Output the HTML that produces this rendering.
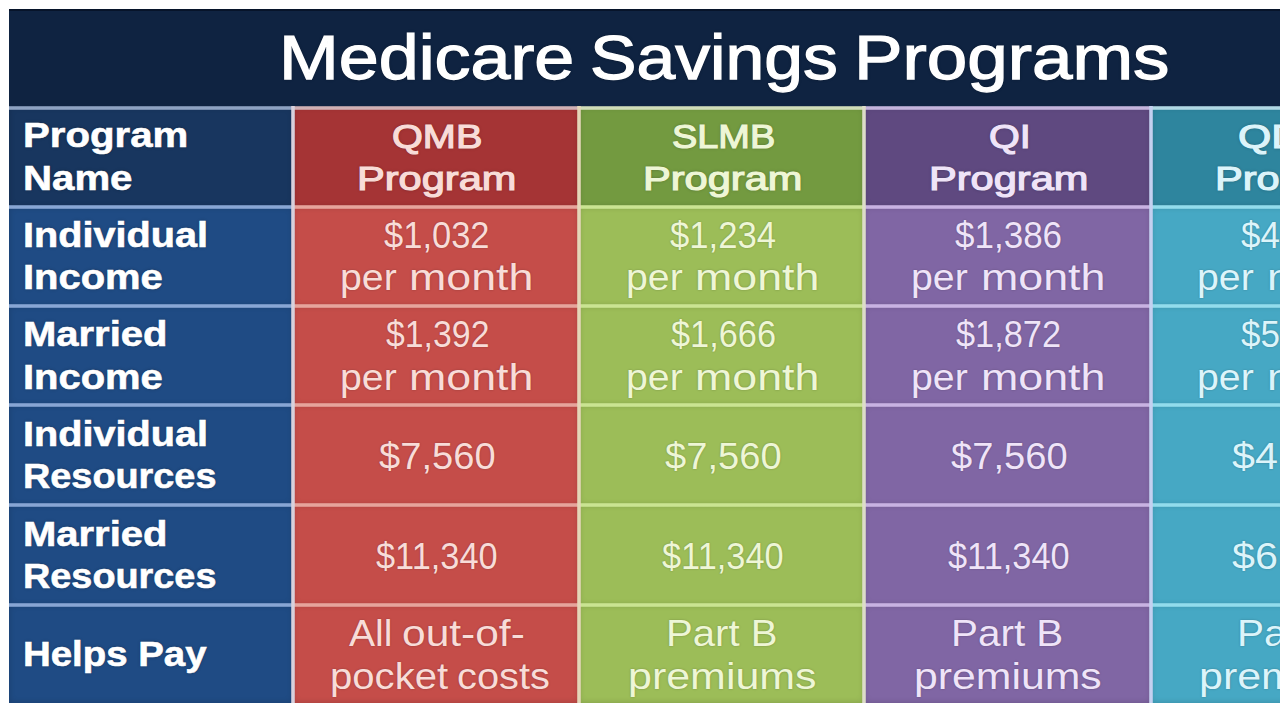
<!DOCTYPE html>
<html><head><meta charset="utf-8"><style>
html,body{margin:0;padding:0;overflow:hidden}
body{width:1280px;height:719px;overflow:hidden;position:relative;background:#ffffff}
.b{position:absolute}
.t{position:absolute;white-space:nowrap;font-family:"Liberation Sans",sans-serif;transform-origin:0 0}
</style></head><body>
<div class="b" style="left:9px;top:9px;width:1271px;height:99px;background:#0f2341"></div>
<div class="b" style="left:9px;top:9px;width:1271px;height:2px;background:#07142a"></div>
<div class="b" style="left:9px;top:107px;width:284px;height:100px;background:#18365f;box-shadow:inset 0 0 6px rgba(0,0,0,0.18)"></div>
<div class="b" style="left:9px;top:207px;width:284px;height:99px;background:#1f4b84;box-shadow:inset 0 0 6px rgba(0,0,0,0.18)"></div>
<div class="b" style="left:9px;top:306px;width:284px;height:99px;background:#1f4b84;box-shadow:inset 0 0 6px rgba(0,0,0,0.18)"></div>
<div class="b" style="left:9px;top:405px;width:284px;height:100px;background:#1f4b84;box-shadow:inset 0 0 6px rgba(0,0,0,0.18)"></div>
<div class="b" style="left:9px;top:505px;width:284px;height:100px;background:#1f4b84;box-shadow:inset 0 0 6px rgba(0,0,0,0.18)"></div>
<div class="b" style="left:9px;top:605px;width:284px;height:98px;background:#1f4b84;box-shadow:inset 0 0 6px rgba(0,0,0,0.18)"></div>
<div class="b" style="left:293px;top:107px;width:286px;height:100px;background:#a53435;box-shadow:inset 0 0 6px rgba(0,0,0,0.18)"></div>
<div class="b" style="left:293px;top:207px;width:286px;height:99px;background:#c54d49;box-shadow:inset 0 0 6px rgba(0,0,0,0.18)"></div>
<div class="b" style="left:293px;top:306px;width:286px;height:99px;background:#c54d49;box-shadow:inset 0 0 6px rgba(0,0,0,0.18)"></div>
<div class="b" style="left:293px;top:405px;width:286px;height:100px;background:#c54d49;box-shadow:inset 0 0 6px rgba(0,0,0,0.18)"></div>
<div class="b" style="left:293px;top:505px;width:286px;height:100px;background:#c54d49;box-shadow:inset 0 0 6px rgba(0,0,0,0.18)"></div>
<div class="b" style="left:293px;top:605px;width:286px;height:98px;background:#c54d49;box-shadow:inset 0 0 6px rgba(0,0,0,0.18)"></div>
<div class="b" style="left:579px;top:107px;width:285px;height:100px;background:#739a40;box-shadow:inset 0 0 6px rgba(0,0,0,0.18)"></div>
<div class="b" style="left:579px;top:207px;width:285px;height:99px;background:#9cbd58;box-shadow:inset 0 0 6px rgba(0,0,0,0.18)"></div>
<div class="b" style="left:579px;top:306px;width:285px;height:99px;background:#9cbd58;box-shadow:inset 0 0 6px rgba(0,0,0,0.18)"></div>
<div class="b" style="left:579px;top:405px;width:285px;height:100px;background:#9cbd58;box-shadow:inset 0 0 6px rgba(0,0,0,0.18)"></div>
<div class="b" style="left:579px;top:505px;width:285px;height:100px;background:#9cbd58;box-shadow:inset 0 0 6px rgba(0,0,0,0.18)"></div>
<div class="b" style="left:579px;top:605px;width:285px;height:98px;background:#9cbd58;box-shadow:inset 0 0 6px rgba(0,0,0,0.18)"></div>
<div class="b" style="left:864px;top:107px;width:287px;height:100px;background:#5f4980;box-shadow:inset 0 0 6px rgba(0,0,0,0.18)"></div>
<div class="b" style="left:864px;top:207px;width:287px;height:99px;background:#8066a4;box-shadow:inset 0 0 6px rgba(0,0,0,0.18)"></div>
<div class="b" style="left:864px;top:306px;width:287px;height:99px;background:#8066a4;box-shadow:inset 0 0 6px rgba(0,0,0,0.18)"></div>
<div class="b" style="left:864px;top:405px;width:287px;height:100px;background:#8066a4;box-shadow:inset 0 0 6px rgba(0,0,0,0.18)"></div>
<div class="b" style="left:864px;top:505px;width:287px;height:100px;background:#8066a4;box-shadow:inset 0 0 6px rgba(0,0,0,0.18)"></div>
<div class="b" style="left:864px;top:605px;width:287px;height:98px;background:#8066a4;box-shadow:inset 0 0 6px rgba(0,0,0,0.18)"></div>
<div class="b" style="left:1151px;top:107px;width:149px;height:100px;background:#2e859e;box-shadow:inset 0 0 6px rgba(0,0,0,0.18)"></div>
<div class="b" style="left:1151px;top:207px;width:149px;height:99px;background:#46a8c4;box-shadow:inset 0 0 6px rgba(0,0,0,0.18)"></div>
<div class="b" style="left:1151px;top:306px;width:149px;height:99px;background:#46a8c4;box-shadow:inset 0 0 6px rgba(0,0,0,0.18)"></div>
<div class="b" style="left:1151px;top:405px;width:149px;height:100px;background:#46a8c4;box-shadow:inset 0 0 6px rgba(0,0,0,0.18)"></div>
<div class="b" style="left:1151px;top:505px;width:149px;height:100px;background:#46a8c4;box-shadow:inset 0 0 6px rgba(0,0,0,0.18)"></div>
<div class="b" style="left:1151px;top:605px;width:149px;height:98px;background:#46a8c4;box-shadow:inset 0 0 6px rgba(0,0,0,0.18)"></div>
<div class="b" style="left:9px;top:106px;width:284px;height:4px;background:linear-gradient(to bottom,#8ea2c290 0,#8ea2c2 1px,#8ea2c2 3px,#8ea2c290 4px)"></div>
<div class="b" style="left:9px;top:205px;width:284px;height:4px;background:linear-gradient(to bottom,#88a6d490 0,#88a6d4 1px,#88a6d4 3px,#88a6d490 4px)"></div>
<div class="b" style="left:9px;top:304px;width:284px;height:4px;background:linear-gradient(to bottom,#88a6d490 0,#88a6d4 1px,#88a6d4 3px,#88a6d490 4px)"></div>
<div class="b" style="left:9px;top:403px;width:284px;height:4px;background:linear-gradient(to bottom,#88a6d490 0,#88a6d4 1px,#88a6d4 3px,#88a6d490 4px)"></div>
<div class="b" style="left:9px;top:503px;width:284px;height:4px;background:linear-gradient(to bottom,#88a6d490 0,#88a6d4 1px,#88a6d4 3px,#88a6d490 4px)"></div>
<div class="b" style="left:9px;top:603px;width:284px;height:4px;background:linear-gradient(to bottom,#88a6d490 0,#88a6d4 1px,#88a6d4 3px,#88a6d490 4px)"></div>
<div class="b" style="left:293px;top:106px;width:286px;height:4px;background:linear-gradient(to bottom,#d0b0b490 0,#d0b0b4 1px,#d0b0b4 3px,#d0b0b490 4px)"></div>
<div class="b" style="left:293px;top:205px;width:286px;height:4px;background:linear-gradient(to bottom,#e6a49c90 0,#e6a49c 1px,#e6a49c 3px,#e6a49c90 4px)"></div>
<div class="b" style="left:293px;top:304px;width:286px;height:4px;background:linear-gradient(to bottom,#e6a49c90 0,#e6a49c 1px,#e6a49c 3px,#e6a49c90 4px)"></div>
<div class="b" style="left:293px;top:403px;width:286px;height:4px;background:linear-gradient(to bottom,#e6a49c90 0,#e6a49c 1px,#e6a49c 3px,#e6a49c90 4px)"></div>
<div class="b" style="left:293px;top:503px;width:286px;height:4px;background:linear-gradient(to bottom,#e6a49c90 0,#e6a49c 1px,#e6a49c 3px,#e6a49c90 4px)"></div>
<div class="b" style="left:293px;top:603px;width:286px;height:4px;background:linear-gradient(to bottom,#e6a49c90 0,#e6a49c 1px,#e6a49c 3px,#e6a49c90 4px)"></div>
<div class="b" style="left:579px;top:106px;width:285px;height:4px;background:linear-gradient(to bottom,#d0dcb890 0,#d0dcb8 1px,#d0dcb8 3px,#d0dcb890 4px)"></div>
<div class="b" style="left:579px;top:205px;width:285px;height:4px;background:linear-gradient(to bottom,#cae49290 0,#cae492 1px,#cae492 3px,#cae49290 4px)"></div>
<div class="b" style="left:579px;top:304px;width:285px;height:4px;background:linear-gradient(to bottom,#cae49290 0,#cae492 1px,#cae492 3px,#cae49290 4px)"></div>
<div class="b" style="left:579px;top:403px;width:285px;height:4px;background:linear-gradient(to bottom,#cae49290 0,#cae492 1px,#cae492 3px,#cae49290 4px)"></div>
<div class="b" style="left:579px;top:503px;width:285px;height:4px;background:linear-gradient(to bottom,#cae49290 0,#cae492 1px,#cae492 3px,#cae49290 4px)"></div>
<div class="b" style="left:579px;top:603px;width:285px;height:4px;background:linear-gradient(to bottom,#cae49290 0,#cae492 1px,#cae492 3px,#cae49290 4px)"></div>
<div class="b" style="left:864px;top:106px;width:287px;height:4px;background:linear-gradient(to bottom,#c4b4dc90 0,#c4b4dc 1px,#c4b4dc 3px,#c4b4dc90 4px)"></div>
<div class="b" style="left:864px;top:205px;width:287px;height:4px;background:linear-gradient(to bottom,#c8b2e290 0,#c8b2e2 1px,#c8b2e2 3px,#c8b2e290 4px)"></div>
<div class="b" style="left:864px;top:304px;width:287px;height:4px;background:linear-gradient(to bottom,#c8b2e290 0,#c8b2e2 1px,#c8b2e2 3px,#c8b2e290 4px)"></div>
<div class="b" style="left:864px;top:403px;width:287px;height:4px;background:linear-gradient(to bottom,#c8b2e290 0,#c8b2e2 1px,#c8b2e2 3px,#c8b2e290 4px)"></div>
<div class="b" style="left:864px;top:503px;width:287px;height:4px;background:linear-gradient(to bottom,#c8b2e290 0,#c8b2e2 1px,#c8b2e2 3px,#c8b2e290 4px)"></div>
<div class="b" style="left:864px;top:603px;width:287px;height:4px;background:linear-gradient(to bottom,#c8b2e290 0,#c8b2e2 1px,#c8b2e2 3px,#c8b2e290 4px)"></div>
<div class="b" style="left:1151px;top:106px;width:149px;height:4px;background:linear-gradient(to bottom,#b0d8e490 0,#b0d8e4 1px,#b0d8e4 3px,#b0d8e490 4px)"></div>
<div class="b" style="left:1151px;top:205px;width:149px;height:4px;background:linear-gradient(to bottom,#92dcec90 0,#92dcec 1px,#92dcec 3px,#92dcec90 4px)"></div>
<div class="b" style="left:1151px;top:304px;width:149px;height:4px;background:linear-gradient(to bottom,#92dcec90 0,#92dcec 1px,#92dcec 3px,#92dcec90 4px)"></div>
<div class="b" style="left:1151px;top:403px;width:149px;height:4px;background:linear-gradient(to bottom,#92dcec90 0,#92dcec 1px,#92dcec 3px,#92dcec90 4px)"></div>
<div class="b" style="left:1151px;top:503px;width:149px;height:4px;background:linear-gradient(to bottom,#92dcec90 0,#92dcec 1px,#92dcec 3px,#92dcec90 4px)"></div>
<div class="b" style="left:1151px;top:603px;width:149px;height:4px;background:linear-gradient(to bottom,#92dcec90 0,#92dcec 1px,#92dcec 3px,#92dcec90 4px)"></div>
<div class="b" style="left:291px;top:106px;width:4px;height:597px;background:linear-gradient(to right,#d8d0dc90 0,#d8d0dc 1px,#d8d0dc 3px,#d8d0dc90 4px)"></div>
<div class="b" style="left:577px;top:106px;width:4px;height:597px;background:linear-gradient(to right,#e4d6b890 0,#e4d6b8 1px,#e4d6b8 3px,#e4d6b890 4px)"></div>
<div class="b" style="left:862px;top:106px;width:4px;height:597px;background:linear-gradient(to right,#dcdcc890 0,#dcdcc8 1px,#dcdcc8 3px,#dcdcc890 4px)"></div>
<div class="b" style="left:1149px;top:106px;width:4px;height:597px;background:linear-gradient(to right,#c4d0f090 0,#c4d0f0 1px,#c4d0f0 3px,#c4d0f090 4px)"></div>
<div class="t" style="left:279.44px;top:25.80px;font-size:63px;line-height:63px;font-weight:normal;-webkit-text-stroke:1.25px currentColor;color:#ffffff;text-shadow:0 0 3px rgba(0,0,0,0.4);transform:scaleX(1.1395)">Medicare</div>
<div class="t" style="left:590.19px;top:25.80px;font-size:63px;line-height:63px;font-weight:normal;-webkit-text-stroke:1.25px currentColor;color:#ffffff;text-shadow:0 0 3px rgba(0,0,0,0.4);transform:scaleX(1.1054)">Savings</div>
<div class="t" style="left:853.88px;top:25.80px;font-size:63px;line-height:63px;font-weight:normal;-webkit-text-stroke:1.25px currentColor;color:#ffffff;text-shadow:0 0 3px rgba(0,0,0,0.4);transform:scaleX(1.1549)">Programs</div>
<div class="t" style="left:22.75px;top:118.00px;font-size:35.7px;line-height:35.7px;font-weight:bold;-webkit-text-stroke:0.60px currentColor;color:#ffffff;text-shadow:0 0 3px rgba(0,0,0,0.35);transform:scaleX(1.1259)">Program</div>
<div class="t" style="left:22.75px;top:160.50px;font-size:35.7px;line-height:35.7px;font-weight:bold;-webkit-text-stroke:0.60px currentColor;color:#ffffff;text-shadow:0 0 3px rgba(0,0,0,0.35);transform:scaleX(1.1263)">Name</div>
<div class="t" style="left:22.78px;top:217.65px;font-size:35.7px;line-height:35.7px;font-weight:bold;-webkit-text-stroke:0.60px currentColor;color:#ffffff;text-shadow:0 0 3px rgba(0,0,0,0.35);transform:scaleX(1.1104)">Individual</div>
<div class="t" style="left:22.76px;top:260.15px;font-size:35.7px;line-height:35.7px;font-weight:bold;-webkit-text-stroke:0.60px currentColor;color:#ffffff;text-shadow:0 0 3px rgba(0,0,0,0.35);transform:scaleX(1.1189)">Income</div>
<div class="t" style="left:22.76px;top:317.30px;font-size:35.7px;line-height:35.7px;font-weight:bold;-webkit-text-stroke:0.60px currentColor;color:#ffffff;text-shadow:0 0 3px rgba(0,0,0,0.35);transform:scaleX(1.1200)">Married</div>
<div class="t" style="left:22.76px;top:359.80px;font-size:35.7px;line-height:35.7px;font-weight:bold;-webkit-text-stroke:0.60px currentColor;color:#ffffff;text-shadow:0 0 3px rgba(0,0,0,0.35);transform:scaleX(1.1189)">Income</div>
<div class="t" style="left:22.78px;top:416.95px;font-size:35.7px;line-height:35.7px;font-weight:bold;-webkit-text-stroke:0.60px currentColor;color:#ffffff;text-shadow:0 0 3px rgba(0,0,0,0.35);transform:scaleX(1.1104)">Individual</div>
<div class="t" style="left:22.88px;top:459.45px;font-size:35.7px;line-height:35.7px;font-weight:bold;-webkit-text-stroke:0.60px currentColor;color:#ffffff;text-shadow:0 0 3px rgba(0,0,0,0.35);transform:scaleX(1.0600)">Resources</div>
<div class="t" style="left:22.76px;top:516.60px;font-size:35.7px;line-height:35.7px;font-weight:bold;-webkit-text-stroke:0.60px currentColor;color:#ffffff;text-shadow:0 0 3px rgba(0,0,0,0.35);transform:scaleX(1.1200)">Married</div>
<div class="t" style="left:22.88px;top:559.10px;font-size:35.7px;line-height:35.7px;font-weight:bold;-webkit-text-stroke:0.60px currentColor;color:#ffffff;text-shadow:0 0 3px rgba(0,0,0,0.35);transform:scaleX(1.0600)">Resources</div>
<div class="t" style="left:22.85px;top:637.40px;font-size:35.7px;line-height:35.7px;font-weight:bold;-webkit-text-stroke:0.60px currentColor;color:#ffffff;text-shadow:0 0 3px rgba(0,0,0,0.35);transform:scaleX(1.0757)">Helps Pay</div>
<div class="t" style="left:392.22px;top:119.90px;font-size:33.6px;line-height:33.6px;font-weight:normal;-webkit-text-stroke:1.20px currentColor;color:#f8dcd8;text-shadow:0 0 3px rgba(0,0,0,0.35);transform:scaleX(1.1813)">QMB</div>
<div class="t" style="left:357.22px;top:161.70px;font-size:33.6px;line-height:33.6px;font-weight:normal;-webkit-text-stroke:1.20px currentColor;color:#f8dcd8;text-shadow:0 0 3px rgba(0,0,0,0.35);transform:scaleX(1.2381)">Program</div>
<div class="t" style="left:671.57px;top:119.90px;font-size:33.6px;line-height:33.6px;font-weight:normal;-webkit-text-stroke:1.20px currentColor;color:#eef6d6;text-shadow:0 0 3px rgba(0,0,0,0.35);transform:scaleX(1.1289)">SLMB</div>
<div class="t" style="left:643.02px;top:161.70px;font-size:33.6px;line-height:33.6px;font-weight:normal;-webkit-text-stroke:1.20px currentColor;color:#eef6d6;text-shadow:0 0 3px rgba(0,0,0,0.35);transform:scaleX(1.2381)">Program</div>
<div class="t" style="left:989.17px;top:119.90px;font-size:33.6px;line-height:33.6px;font-weight:normal;-webkit-text-stroke:1.20px currentColor;color:#efe4f8;text-shadow:0 0 3px rgba(0,0,0,0.35);transform:scaleX(1.1781)">QI</div>
<div class="t" style="left:928.72px;top:161.70px;font-size:33.6px;line-height:33.6px;font-weight:normal;-webkit-text-stroke:1.20px currentColor;color:#efe4f8;text-shadow:0 0 3px rgba(0,0,0,0.35);transform:scaleX(1.2381)">Program</div>
<div class="t" style="left:1237.73px;top:119.90px;font-size:33.6px;line-height:33.6px;font-weight:normal;-webkit-text-stroke:1.20px currentColor;color:#dcf4fa;text-shadow:0 0 3px rgba(0,0,0,0.35);transform:scaleX(1.2727)">QDWI</div>
<div class="t" style="left:1214.52px;top:161.70px;font-size:33.6px;line-height:33.6px;font-weight:normal;-webkit-text-stroke:1.20px currentColor;color:#dcf4fa;text-shadow:0 0 3px rgba(0,0,0,0.35);transform:scaleX(1.2381)">Program</div>
<div class="t" style="left:384.45px;top:217.80px;font-size:36px;line-height:36px;font-weight:normal;color:#f8dcd8;text-shadow:0 0 2px rgba(0,0,0,0.25);transform:scaleX(0.9587)">$1,032</div>
<div class="t" style="left:339.97px;top:260.30px;font-size:36px;line-height:36px;font-weight:normal;color:#f8dcd8;text-shadow:0 0 2px rgba(0,0,0,0.25);transform:scaleX(1.0900)">per</div>
<div class="t" style="left:409.46px;top:260.30px;font-size:36px;line-height:36px;font-weight:normal;color:#f8dcd8;text-shadow:0 0 2px rgba(0,0,0,0.25);transform:scaleX(1.2427)">month</div>
<div class="t" style="left:669.95px;top:217.80px;font-size:36px;line-height:36px;font-weight:normal;color:#eef6d6;text-shadow:0 0 2px rgba(0,0,0,0.25);transform:scaleX(0.9642)">$1,234</div>
<div class="t" style="left:625.77px;top:260.30px;font-size:36px;line-height:36px;font-weight:normal;color:#eef6d6;text-shadow:0 0 2px rgba(0,0,0,0.25);transform:scaleX(1.0900)">per</div>
<div class="t" style="left:695.26px;top:260.30px;font-size:36px;line-height:36px;font-weight:normal;color:#eef6d6;text-shadow:0 0 2px rgba(0,0,0,0.25);transform:scaleX(1.2427)">month</div>
<div class="t" style="left:955.20px;top:217.80px;font-size:36px;line-height:36px;font-weight:normal;color:#efe4f8;text-shadow:0 0 2px rgba(0,0,0,0.25);transform:scaleX(0.9725)">$1,386</div>
<div class="t" style="left:911.47px;top:260.30px;font-size:36px;line-height:36px;font-weight:normal;color:#efe4f8;text-shadow:0 0 2px rgba(0,0,0,0.25);transform:scaleX(1.0900)">per</div>
<div class="t" style="left:980.96px;top:260.30px;font-size:36px;line-height:36px;font-weight:normal;color:#efe4f8;text-shadow:0 0 2px rgba(0,0,0,0.25);transform:scaleX(1.2427)">month</div>
<div class="t" style="left:1241.00px;top:217.80px;font-size:36px;line-height:36px;font-weight:normal;color:#dcf4fa;text-shadow:0 0 2px rgba(0,0,0,0.25);transform:scaleX(0.9725)">$4,339</div>
<div class="t" style="left:1197.27px;top:260.30px;font-size:36px;line-height:36px;font-weight:normal;color:#dcf4fa;text-shadow:0 0 2px rgba(0,0,0,0.25);transform:scaleX(1.0900)">per</div>
<div class="t" style="left:1266.76px;top:260.30px;font-size:36px;line-height:36px;font-weight:normal;color:#dcf4fa;text-shadow:0 0 2px rgba(0,0,0,0.25);transform:scaleX(1.2427)">month</div>
<div class="t" style="left:385.50px;top:317.45px;font-size:36px;line-height:36px;font-weight:normal;color:#f8dcd8;text-shadow:0 0 2px rgba(0,0,0,0.25);transform:scaleX(0.9394)">$1,392</div>
<div class="t" style="left:339.97px;top:359.95px;font-size:36px;line-height:36px;font-weight:normal;color:#f8dcd8;text-shadow:0 0 2px rgba(0,0,0,0.25);transform:scaleX(1.0900)">per</div>
<div class="t" style="left:409.46px;top:359.95px;font-size:36px;line-height:36px;font-weight:normal;color:#f8dcd8;text-shadow:0 0 2px rgba(0,0,0,0.25);transform:scaleX(1.2427)">month</div>
<div class="t" style="left:670.50px;top:317.45px;font-size:36px;line-height:36px;font-weight:normal;color:#eef6d6;text-shadow:0 0 2px rgba(0,0,0,0.25);transform:scaleX(0.9541)">$1,666</div>
<div class="t" style="left:625.77px;top:359.95px;font-size:36px;line-height:36px;font-weight:normal;color:#eef6d6;text-shadow:0 0 2px rgba(0,0,0,0.25);transform:scaleX(1.0900)">per</div>
<div class="t" style="left:695.26px;top:359.95px;font-size:36px;line-height:36px;font-weight:normal;color:#eef6d6;text-shadow:0 0 2px rgba(0,0,0,0.25);transform:scaleX(1.2427)">month</div>
<div class="t" style="left:956.20px;top:317.45px;font-size:36px;line-height:36px;font-weight:normal;color:#efe4f8;text-shadow:0 0 2px rgba(0,0,0,0.25);transform:scaleX(0.9541)">$1,872</div>
<div class="t" style="left:911.47px;top:359.95px;font-size:36px;line-height:36px;font-weight:normal;color:#efe4f8;text-shadow:0 0 2px rgba(0,0,0,0.25);transform:scaleX(1.0900)">per</div>
<div class="t" style="left:980.96px;top:359.95px;font-size:36px;line-height:36px;font-weight:normal;color:#efe4f8;text-shadow:0 0 2px rgba(0,0,0,0.25);transform:scaleX(1.2427)">month</div>
<div class="t" style="left:1241.00px;top:317.45px;font-size:36px;line-height:36px;font-weight:normal;color:#dcf4fa;text-shadow:0 0 2px rgba(0,0,0,0.25);transform:scaleX(0.9725)">$5,833</div>
<div class="t" style="left:1197.27px;top:359.95px;font-size:36px;line-height:36px;font-weight:normal;color:#dcf4fa;text-shadow:0 0 2px rgba(0,0,0,0.25);transform:scaleX(1.0900)">per</div>
<div class="t" style="left:1266.76px;top:359.95px;font-size:36px;line-height:36px;font-weight:normal;color:#dcf4fa;text-shadow:0 0 2px rgba(0,0,0,0.25);transform:scaleX(1.2427)">month</div>
<div class="t" style="left:379.00px;top:438.80px;font-size:36px;line-height:36px;font-weight:normal;color:#f8dcd8;text-shadow:0 0 2px rgba(0,0,0,0.25);transform:scaleX(1.0587)">$7,560</div>
<div class="t" style="left:664.80px;top:438.80px;font-size:36px;line-height:36px;font-weight:normal;color:#eef6d6;text-shadow:0 0 2px rgba(0,0,0,0.25);transform:scaleX(1.0587)">$7,560</div>
<div class="t" style="left:950.50px;top:438.80px;font-size:36px;line-height:36px;font-weight:normal;color:#efe4f8;text-shadow:0 0 2px rgba(0,0,0,0.25);transform:scaleX(1.0587)">$7,560</div>
<div class="t" style="left:1231.50px;top:438.80px;font-size:36px;line-height:36px;font-weight:normal;color:#dcf4fa;text-shadow:0 0 2px rgba(0,0,0,0.25);transform:scaleX(1.1468)">$4,000</div>
<div class="t" style="left:376.10px;top:538.50px;font-size:36px;line-height:36px;font-weight:normal;color:#f8dcd8;text-shadow:0 0 2px rgba(0,0,0,0.25);transform:scaleX(0.9543)">$11,340</div>
<div class="t" style="left:661.90px;top:538.50px;font-size:36px;line-height:36px;font-weight:normal;color:#eef6d6;text-shadow:0 0 2px rgba(0,0,0,0.25);transform:scaleX(0.9543)">$11,340</div>
<div class="t" style="left:947.60px;top:538.50px;font-size:36px;line-height:36px;font-weight:normal;color:#efe4f8;text-shadow:0 0 2px rgba(0,0,0,0.25);transform:scaleX(0.9543)">$11,340</div>
<div class="t" style="left:1231.50px;top:538.50px;font-size:36px;line-height:36px;font-weight:normal;color:#dcf4fa;text-shadow:0 0 2px rgba(0,0,0,0.25);transform:scaleX(1.1468)">$6,000</div>
<div class="t" style="left:348.90px;top:616.00px;font-size:36px;line-height:36px;font-weight:normal;color:#f8dcd8;text-shadow:0 0 2px rgba(0,0,0,0.25);transform:scaleX(1.0868)">All</div>
<div class="t" style="left:401.62px;top:616.00px;font-size:36px;line-height:36px;font-weight:normal;color:#f8dcd8;text-shadow:0 0 2px rgba(0,0,0,0.25);transform:scaleX(1.1804)">out-of-</div>
<div class="t" style="left:329.57px;top:658.50px;font-size:36px;line-height:36px;font-weight:normal;color:#f8dcd8;text-shadow:0 0 2px rgba(0,0,0,0.25);transform:scaleX(1.1144)">pocket</div>
<div class="t" style="left:457.39px;top:658.50px;font-size:36px;line-height:36px;font-weight:normal;color:#f8dcd8;text-shadow:0 0 2px rgba(0,0,0,0.25);transform:scaleX(1.1061)">costs</div>
<div class="t" style="left:665.66px;top:616.00px;font-size:36px;line-height:36px;font-weight:normal;color:#eef6d6;text-shadow:0 0 2px rgba(0,0,0,0.25);transform:scaleX(1.1146)">Part B</div>
<div class="t" style="left:627.61px;top:658.50px;font-size:36px;line-height:36px;font-weight:normal;color:#eef6d6;text-shadow:0 0 2px rgba(0,0,0,0.25);transform:scaleX(1.1935)">premiums</div>
<div class="t" style="left:950.93px;top:616.00px;font-size:36px;line-height:36px;font-weight:normal;color:#efe4f8;text-shadow:0 0 2px rgba(0,0,0,0.25);transform:scaleX(1.1229)">Part B</div>
<div class="t" style="left:913.77px;top:658.50px;font-size:36px;line-height:36px;font-weight:normal;color:#efe4f8;text-shadow:0 0 2px rgba(0,0,0,0.25);transform:scaleX(1.1877)">premiums</div>
<div class="t" style="left:1237.12px;top:616.00px;font-size:36px;line-height:36px;font-weight:normal;color:#dcf4fa;text-shadow:0 0 2px rgba(0,0,0,0.25);transform:scaleX(1.1263)">Part A</div>
<div class="t" style="left:1199.11px;top:658.50px;font-size:36px;line-height:36px;font-weight:normal;color:#dcf4fa;text-shadow:0 0 2px rgba(0,0,0,0.25);transform:scaleX(1.1935)">premiums</div>
</body></html>
